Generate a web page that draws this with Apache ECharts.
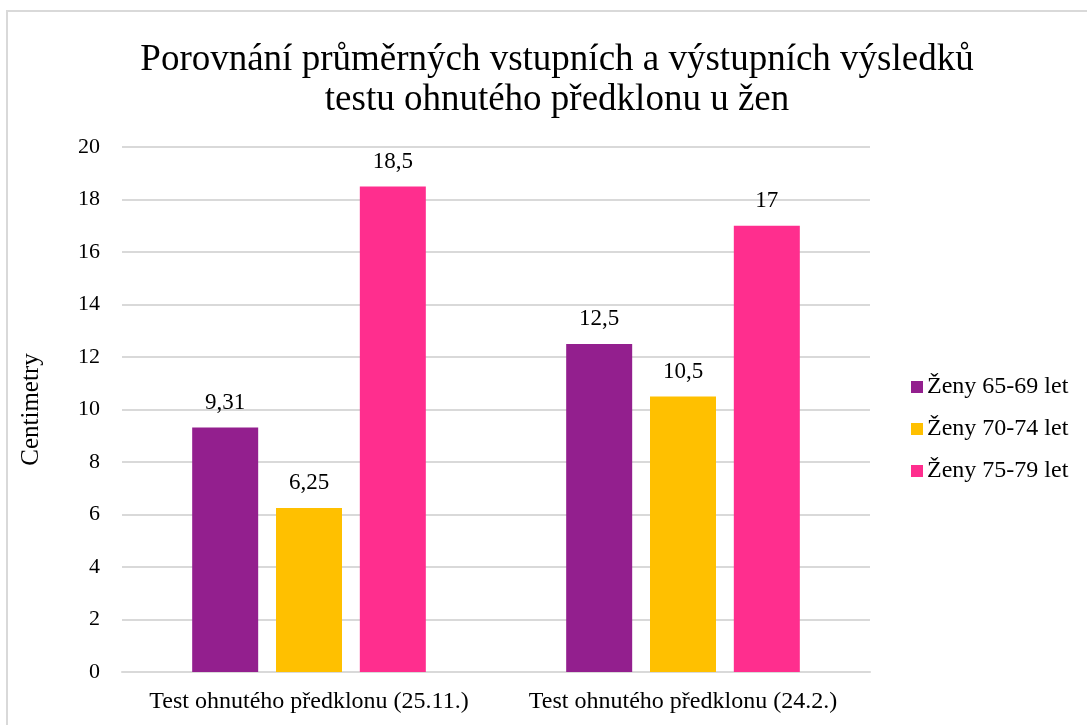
<!DOCTYPE html>
<html>
	<head>
		<title>Porovnání</title>
		<meta charset="utf-8"/>
		<style type="text/css">
			*{margin: 0;padding: 0;}
			html,body{height: 100%;background: #fff;}
			.chart{width: 1087px;height: 725px;}
		</style>
		<script type="text/javascript" src="https://cdn.jsdelivr.net/npm/echarts@6/dist/echarts.min.js"></script>
	</head>
	<body>
		<div class="chart js-chart"></div>
		<script type="text/javascript">
			var categories=["Test ohnutého předklonu (25.11.)","Test ohnutého předklonu (24.2.)"];
			var seriesNames=["Ženy 65-69 let","Ženy 70-74 let","Ženy 75-79 let"];
			var zeny6569=[9.31,12.5];
			var zeny7074=[6.25,10.5];
			var zeny7579=[18.5,17];
			var colors=["#931f8e","#ffc000","#ff2e8e"];
			var font="'Liberation Serif','Times New Roman',serif";

			var chart=echarts.init(document.querySelector('.js-chart'));
			var values=[zeny6569,zeny7074,zeny7579];
			var series=[];
			for(var i=0;i<values.length;i++){
				series.push({
					name:seriesNames[i],
					type:"bar",
					data:values[i],
					barWidth:66,
					barGap:"27%",
					itemStyle:{color:colors[i]},
					label:{
						show:true,
						position:"top",
						distance:13,
						color:"#000",
						fontFamily:font,
						fontSize:23,
						formatter:function(p){return String(p.value).replace(".",",");}
					}
				});
			}
			chart.setOption({
				animation:false,
				textStyle:{fontFamily:font},
				graphic:[{
					type:"rect",
					shape:{x:7,y:11,width:1200,height:900},
					style:{fill:"none",stroke:"#d9d9d9",lineWidth:2}
				}],
				title:{
					text:"Porovnání průměrných vstupních a výstupních výsledků\ntestu ohnutého předklonu u žen",
					left:552,
					textAlign:"center",
					top:35,
					textStyle:{fontFamily:font,fontWeight:"normal",fontSize:37,lineHeight:40,color:"#000"}
				},
				legend:{
					orient:"vertical",
					left:906,
					top:370,
					itemWidth:12,
					itemHeight:12,
					itemGap:18,
					icon:"rect",
					textStyle:{fontFamily:font,fontSize:24,color:"#000",padding:[0,0,0,-1]},
					data:seriesNames
				},
				grid:{left:122,right:217,top:147,bottom:53},
				xAxis:{
					type:"category",
					data:categories,
					axisTick:{show:false},
					axisLine:{lineStyle:{color:"#d9d9d9",width:2}},
					axisLabel:{color:"#000",fontFamily:font,fontSize:24,margin:18,interval:0}
				},
				yAxis:{
					type:"value",
					min:0,
					max:20,
					interval:2,
					name:"Centimetry",
					nameLocation:"middle",
					nameGap:78,
					nameTextStyle:{color:"#000",fontFamily:font,fontSize:25},
					axisLine:{show:false},
					axisTick:{show:false},
					axisLabel:{color:"#000",fontFamily:font,fontSize:22,margin:22},
					splitLine:{lineStyle:{color:"#d9d9d9",width:2}}
				},
				series:series
			});
		</script>
	</body>
</html>
